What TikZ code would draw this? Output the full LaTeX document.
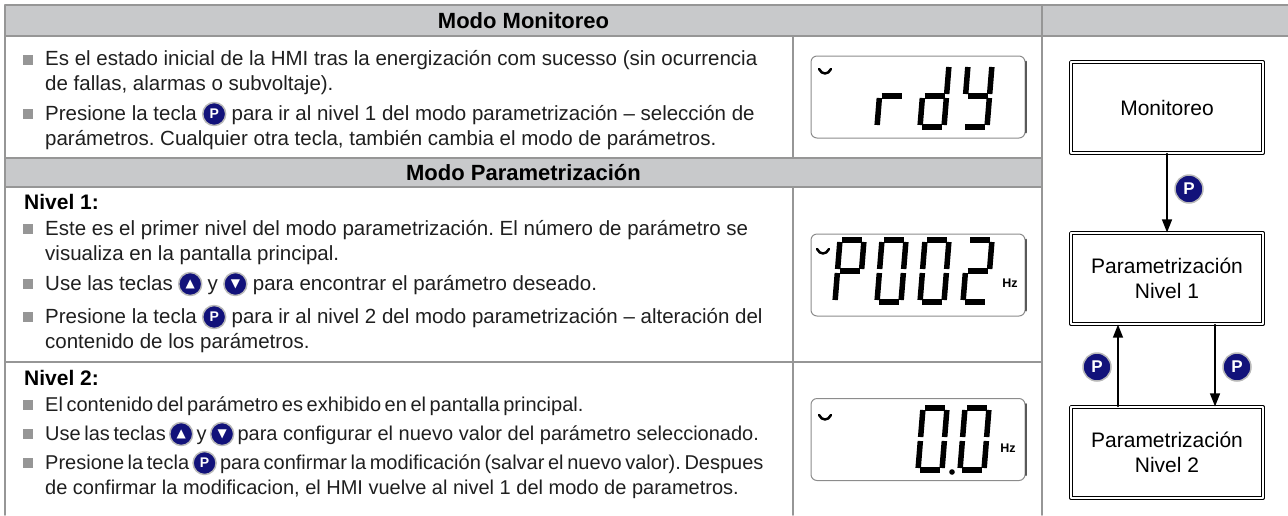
\documentclass[tikz,border=0pt]{standalone}
\usepackage{fontspec}
\setmainfont{Liberation Sans}
\newfontfamily\symfont{DejaVu Sans}
\usepackage{tikz}
\usetikzlibrary{positioning}
\usetikzlibrary{arrows.meta}
\definecolor{c8c9cb}{rgb}{0.784,0.788,0.796}
\definecolor{969696}{rgb}{0.59,0.59,0.59}
\definecolor{12127a}{rgb}{0.07,0.07,0.48}
\definecolor{8c8c8c}{rgb}{0.55,0.55,0.55}
\definecolor{5a5a5a}{rgb}{0.35,0.35,0.35}
\definecolor{1e1e1e}{rgb}{0.12,0.12,0.12}
\frenchspacing
\newcommand{\tightsp}{\spaceskip=3.6pt plus 2pt minus 1pt\relax}
\tikzstyle{every node}=[font=\fontsize{20.5}{24}\selectfont]
\tikzstyle{txt}=[anchor=base west,inner sep=0pt,text height=16pt,text depth=4pt,text=1e1e1e]
\tikzstyle{tight}=[txt,font=\fontsize{20}{24}\selectfont\tightsp]
\tikzstyle{hdr}=[anchor=base,inner sep=0pt,font=\bfseries\fontsize{22}{24}\selectfont]
\tikzstyle{lvl}=[txt,text=black,font=\bfseries\fontsize{21}{24}\selectfont]
\tikzstyle{bul}=[fill=969696,minimum size=10.5pt,inner sep=0pt]
\tikzstyle{key}=[circle,fill=12127a,draw=gray!55,line width=1.5pt,minimum size=23pt,inner sep=0pt,text=white,font=\bfseries\fontsize{14}{14}\selectfont]
\tikzstyle{bigkey}=[key,minimum size=28pt,font=\bfseries\fontsize{17}{17}\selectfont]
\tikzstyle{lcd}=[draw=8c8c8c,rounded corners=6pt,line width=1pt,minimum width=214pt,minimum height=82pt,inner sep=0pt]
\tikzstyle{seg}=[line width=5.5pt,line cap=butt,shorten <=2pt,shorten >=2pt]
\tikzstyle{hz}=[inner sep=0pt,font=\bfseries\fontsize{12.5}{12.5}\selectfont]
\tikzstyle{stbox}=[draw,double,double distance=1.5pt,line width=1.2pt,minimum width=192pt,minimum height=91pt,align=center,font=\fontsize{21}{25}\selectfont]
\newcommand{\upkey}{{\symfont\fontsize{12}{12}\selectfont ▲}}
\newcommand{\downkey}{{\symfont\fontsize{12}{12}\selectfont ▼}}
% seven segment digits
\def\digr{ML/MR,ML/BL}
\def\digd{TR/MR,MR/BR,BL/BR,ML/BL,ML/MR}
\def\digy{TL/ML,TR/MR,MR/BR,BL/BR,ML/MR}
\def\digP{TL/TR,TR/MR,TL/ML,ML/MR,ML/BL}
\def\digzero{TL/TR,TR/MR,MR/BR,BL/BR,ML/BL,TL/ML}
\def\digtwo{TL/TR,TR/MR,ML/MR,ML/BL,BL/BR}
\newcommand{\lcddigit}[3]{%
  \begin{scope}[shift={(#1,#2)},yscale=-1]
    \coordinate (BL) at (0,0); \coordinate (BR) at (24,0);
    \coordinate (ML) at (2.5,31); \coordinate (MR) at (26.5,31);
    \coordinate (TL) at (5,62); \coordinate (TR) at (29,62);
    \foreach \a/\b in #3 \draw[seg] (\a) -- (\b);
  \end{scope}}

\begin{document}
\begin{tikzpicture}[line cap=round,line join=round,>={Triangle[length=13pt,width=10pt]},x=1pt,y=-1pt]
  \useasboundingbox (0,0) rectangle (1288,515);
  % table
  \fill[c8c9cb] (5,5) rectangle (1288,36);
  \fill[c8c9cb] (5,158) rectangle (1042,187);
  \draw[969696,line width=1.5pt] (5,515) -- (5,5) -- (1288,5);
  \draw[969696,line width=1.5pt] (5,36) -- (1288,36);
  \draw[969696,line width=1.5pt] (5,158) -- (1042,158);
  \draw[969696,line width=1.5pt] (5,187) -- (1042,187);
  \draw[969696,line width=1.5pt] (5,362) -- (1042,362);
  \draw[969696,line width=1.5pt] (793,36) -- (793,158);
  \draw[969696,line width=1.5pt] (793,187) -- (793,515);
  \draw[969696,line width=1.5pt] (1042,5) -- (1042,515);
  \node[hdr] (h1) at (523.5,28) {Modo Monitoreo};
  \node[hdr] (h2) at (523.5,180) {Modo Parametrización};
  % modo monitoreo
  \node[bul] (b1) at (28,60) {};
  \node[txt] (t1) at (45,65) {Es el estado inicial de la HMI tras la energización com sucesso (sin ocurrencia};
  \node[txt] (t2) at (45,90) {de fallas, alarmas o subvoltaje).};
  \node[bul] (b2) at (28,114) {};
  \node[txt] (t3) at (45,120) {Presione la tecla};
  \node[key,right=5pt of t3] (k1) {P};
  \node[txt,right=5pt of k1] (t3b) {para ir al nivel 1 del modo parametrización – selección de};
  \node[txt] (t4) at (45,145) {parámetros. Cualquier otra tecla, también cambia el modo de parámetros.};
  % nivel 1
  \node[lvl] (lv1) at (24,209) {Nivel 1:};
  \node[bul] (b3) at (28,229) {};
  \node[txt] (t5) at (45,235) {Este es el primer nivel del modo parametrización. El número de parámetro se};
  \node[txt] (t6) at (45,260) {visualiza en la pantalla principal.};
  \node[bul] (b4) at (28,284) {};
  \node[txt] (t7) at (45,290) {Use las teclas};
  \node[key,right=5pt of t7] (k2) {\upkey};
  \node[txt,right=5pt of k2] (t7b) {y};
  \node[key,right=5pt of t7b] (k3) {\downkey};
  \node[txt,right=5pt of k3] (t7c) {para encontrar el parámetro deseado.};
  \node[bul] (b5) at (28,317) {};
  \node[txt] (t8) at (45,323) {Presione la tecla};
  \node[key,right=5pt of t8] (k4) {P};
  \node[txt,right=5pt of k4] (t8b) {para ir al nivel 2 del modo parametrización – alteración del};
  \node[txt] (t9) at (45,348) {contenido de los parámetros.};
  % nivel 2
  \node[lvl] (lv2) at (24,385) {Nivel 2:};
  \node[bul] (b6) at (28,405) {};
  \node[tight] (t10) at (45,411) {El contenido del parámetro es exhibido en el pantalla principal.};
  \node[bul] (b7) at (28,434) {};
  \node[tight] (t11) at (45,440) {Use las teclas};
  \node[key,right=3pt of t11] (k5) {\upkey};
  \node[tight,right=3pt of k5] (t11b) {y};
  \node[key,right=3pt of t11b] (k6) {\downkey};
  \node[txt,font=\fontsize{20}{24}\selectfont,right=3pt of k6] (t11c) {para configurar el nuevo valor del parámetro seleccionado.};
  \node[bul] (b8) at (28,463) {};
  \node[tight] (t12) at (45,469) {Presione la tecla};
  \node[key,right=3pt of t12] (k7) {P};
  \node[tight,right=3pt of k7] (t12b) {para confirmar la modificación (salvar el nuevo valor). Despues};
  \node[txt,font=\fontsize{20}{24}\selectfont] (t13) at (45,494) {de confirmar la modificacion, el HMI vuelve al nivel 1 del modo de parametros.};
  % displays
  \node[lcd] (lcd1) at (918,97) {};
  \node[lcd] (lcd2) at (918,275) {};
  \node[lcd] (lcd3) at (918,439.5) {};
  \foreach \d in {lcd1,lcd2,lcd3}
    \draw[5a5a5a,line width=2pt] ([yshift=-6pt]\d.north east) -- ([yshift=6pt]\d.south east);
  \draw[line width=2.5pt] (819,69) .. controls (822,75) and (828,75) .. (831,69);
  \draw[line width=2.5pt] (817,249) .. controls (820,255) and (826,255) .. (829,249);
  \draw[line width=2.5pt] (819,415) .. controls (822,421) and (828,421) .. (831,415);
  \lcddigit{877}{127}{\digr}
  \lcddigit{920}{127}{\digd}
  \lcddigit{963}{127}{\digy}
  \lcddigit{835}{302}{\digP}
  \lcddigit{877}{302}{\digzero}
  \lcddigit{920}{302}{\digzero}
  \lcddigit{963}{302}{\digtwo}
  \lcddigit{918}{470}{\digzero}
  \lcddigit{960}{470}{\digzero}
  \fill (952,472) circle (2.8pt);
  \node[hz] (hz1) at (1010,283) {Hz};
  \node[hz] (hz2) at (1008,448) {Hz};
  % flow
  \node[stbox] (mon) at (1167,107.5) {Monitoreo};
  \node[stbox] (par1) at (1167,278.5) {Parametrización\\Nivel 1};
  \node[stbox] (par2) at (1167,452.5) {Parametrización\\Nivel 2};
  \draw[->,line width=1.3pt] (mon.south) -- (par1.north);
  \draw[->,line width=1.3pt] ([xshift=-49pt]par2.north) -- ([xshift=-49pt]par1.south);
  \draw[->,line width=1.3pt] ([xshift=48pt]par1.south) -- ([xshift=48pt]par2.north);
  \node[bigkey] (p1) at (1189,189) {P};
  \node[bigkey] (p2) at (1097,367) {P};
  \node[bigkey] (p3) at (1237,367) {P};
\end{tikzpicture}
\end{document}
